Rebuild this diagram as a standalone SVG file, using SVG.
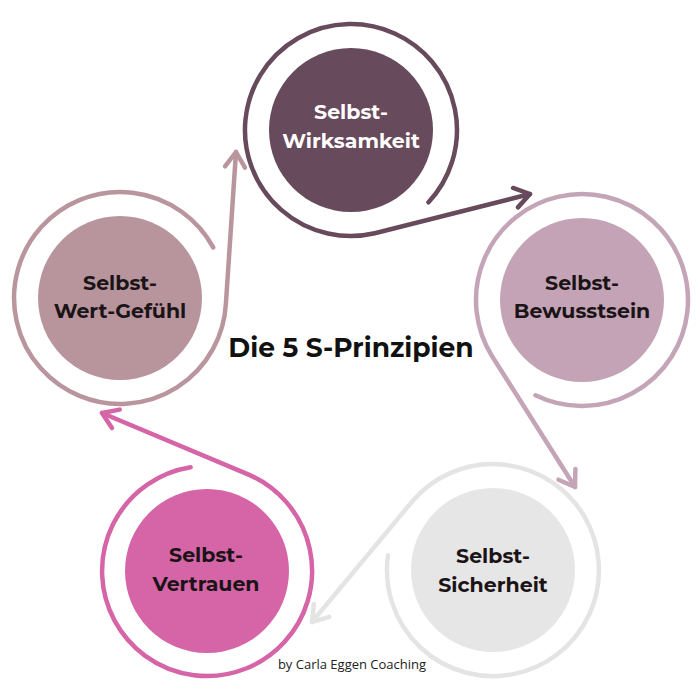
<svg xmlns="http://www.w3.org/2000/svg" width="696" height="696" viewBox="0 0 696 696">
<style>
.ring{fill:none;stroke-width:4.5;stroke-linecap:round;stroke-linejoin:round}
.lbl{font-family:"Montserrat","DejaVu Sans",sans-serif;font-weight:700;font-size:20.5px;text-anchor:middle;fill:#1b1416}
.lbl.w{fill:#ffffff}
.title{font-family:"Montserrat","DejaVu Sans",sans-serif;font-weight:700;font-size:26.5px;text-anchor:middle;fill:#111}
.foot{font-family:"Open Sans","Liberation Sans",sans-serif;font-size:13px;text-anchor:middle;fill:#222}
</style>
<defs>
<marker id="mTop" markerUnits="userSpaceOnUse" markerWidth="40" markerHeight="40" refX="0" refY="0" orient="auto" overflow="visible"><path d="M-15,-10 L0,0 L-15,10" fill="none" stroke="#674a5b" stroke-width="4.5" stroke-linecap="round" stroke-linejoin="round"/></marker>
<marker id="mRight" markerUnits="userSpaceOnUse" markerWidth="40" markerHeight="40" refX="0" refY="0" orient="auto" overflow="visible"><path d="M-15,-10 L0,0 L-15,10" fill="none" stroke="#c4a5b7" stroke-width="4.5" stroke-linecap="round" stroke-linejoin="round"/></marker>
<marker id="mBR" markerUnits="userSpaceOnUse" markerWidth="40" markerHeight="40" refX="0" refY="0" orient="auto" overflow="visible"><path d="M-15,-10 L0,0 L-15,10" fill="none" stroke="#e4e4e4" stroke-width="4.5" stroke-linecap="round" stroke-linejoin="round"/></marker>
<marker id="mBL" markerUnits="userSpaceOnUse" markerWidth="40" markerHeight="40" refX="0" refY="0" orient="auto" overflow="visible"><path d="M-15,-10 L0,0 L-15,10" fill="none" stroke="#d565a6" stroke-width="4.5" stroke-linecap="round" stroke-linejoin="round"/></marker>
<marker id="mLeft" markerUnits="userSpaceOnUse" markerWidth="40" markerHeight="40" refX="0" refY="0" orient="auto" overflow="visible"><path d="M-15,-10 L0,0 L-15,10" fill="none" stroke="#b9959e" stroke-width="4.5" stroke-linecap="round" stroke-linejoin="round"/></marker>
</defs>
<rect width="696" height="696" fill="#ffffff"/>
<g id="connectors">
<path class="ring" stroke="#674a5b" d="M428.5,202.3 A106,106 0 1 0 374.8,233.3 L530,194" marker-end="url(#mTop)"/>
<path class="ring" stroke="#c4a5b7" d="M535.5,395.3 A106,106 0 1 0 492.1,356.2 L575,487" marker-end="url(#mRight)"/>
<path class="ring" stroke="#e4e4e4" d="M388,555.2 A106,106 0 1 0 412.4,501.2 L312,622" marker-end="url(#mBR)"/>
<path class="ring" stroke="#d565a6" d="M190.6,467.3 A105,105 0 1 0 248.7,474.6 L102,413" marker-end="url(#mBL)"/>
<path class="ring" stroke="#b9959e" d="M213.2,247.4 A106,106 0 1 0 225.9,303.5 L236,152" marker-end="url(#mLeft)"/>
</g>
<g id="node-wirksamkeit">
<circle cx="351" cy="130" r="82" fill="#674a5b"/>
<text class="lbl w" x="351" y="119">Selbst-</text>
<text class="lbl w" x="351" y="148">Wirksamkeit</text>
</g>
<g id="node-bewusstsein">
<circle cx="582" cy="300" r="82" fill="#c3a3b5"/>
<text class="lbl" x="582" y="290">Selbst-</text>
<text class="lbl" x="582" y="318">Bewusstsein</text>
</g>
<g id="node-sicherheit">
<circle cx="493" cy="570" r="82" fill="#e6e6e6"/>
<text class="lbl" x="493" y="563">Selbst-</text>
<text class="lbl" x="493" y="592">Sicherheit</text>
</g>
<g id="node-vertrauen">
<circle cx="207" cy="571" r="82" fill="#d565a6"/>
<text class="lbl" x="206" y="562">Selbst-</text>
<text class="lbl" x="206" y="591">Vertrauen</text>
</g>
<g id="node-wertgefuehl">
<circle cx="120" cy="298" r="82" fill="#b8959d"/>
<text class="lbl" x="120" y="290">Selbst-</text>
<text class="lbl" x="120" y="318">Wert-Gefühl</text>
</g>
<text class="title" x="351" y="357">Die 5 S-Prinzipien</text>
<text class="foot" x="352" y="669">by Carla Eggen Coaching</text>
</svg>
